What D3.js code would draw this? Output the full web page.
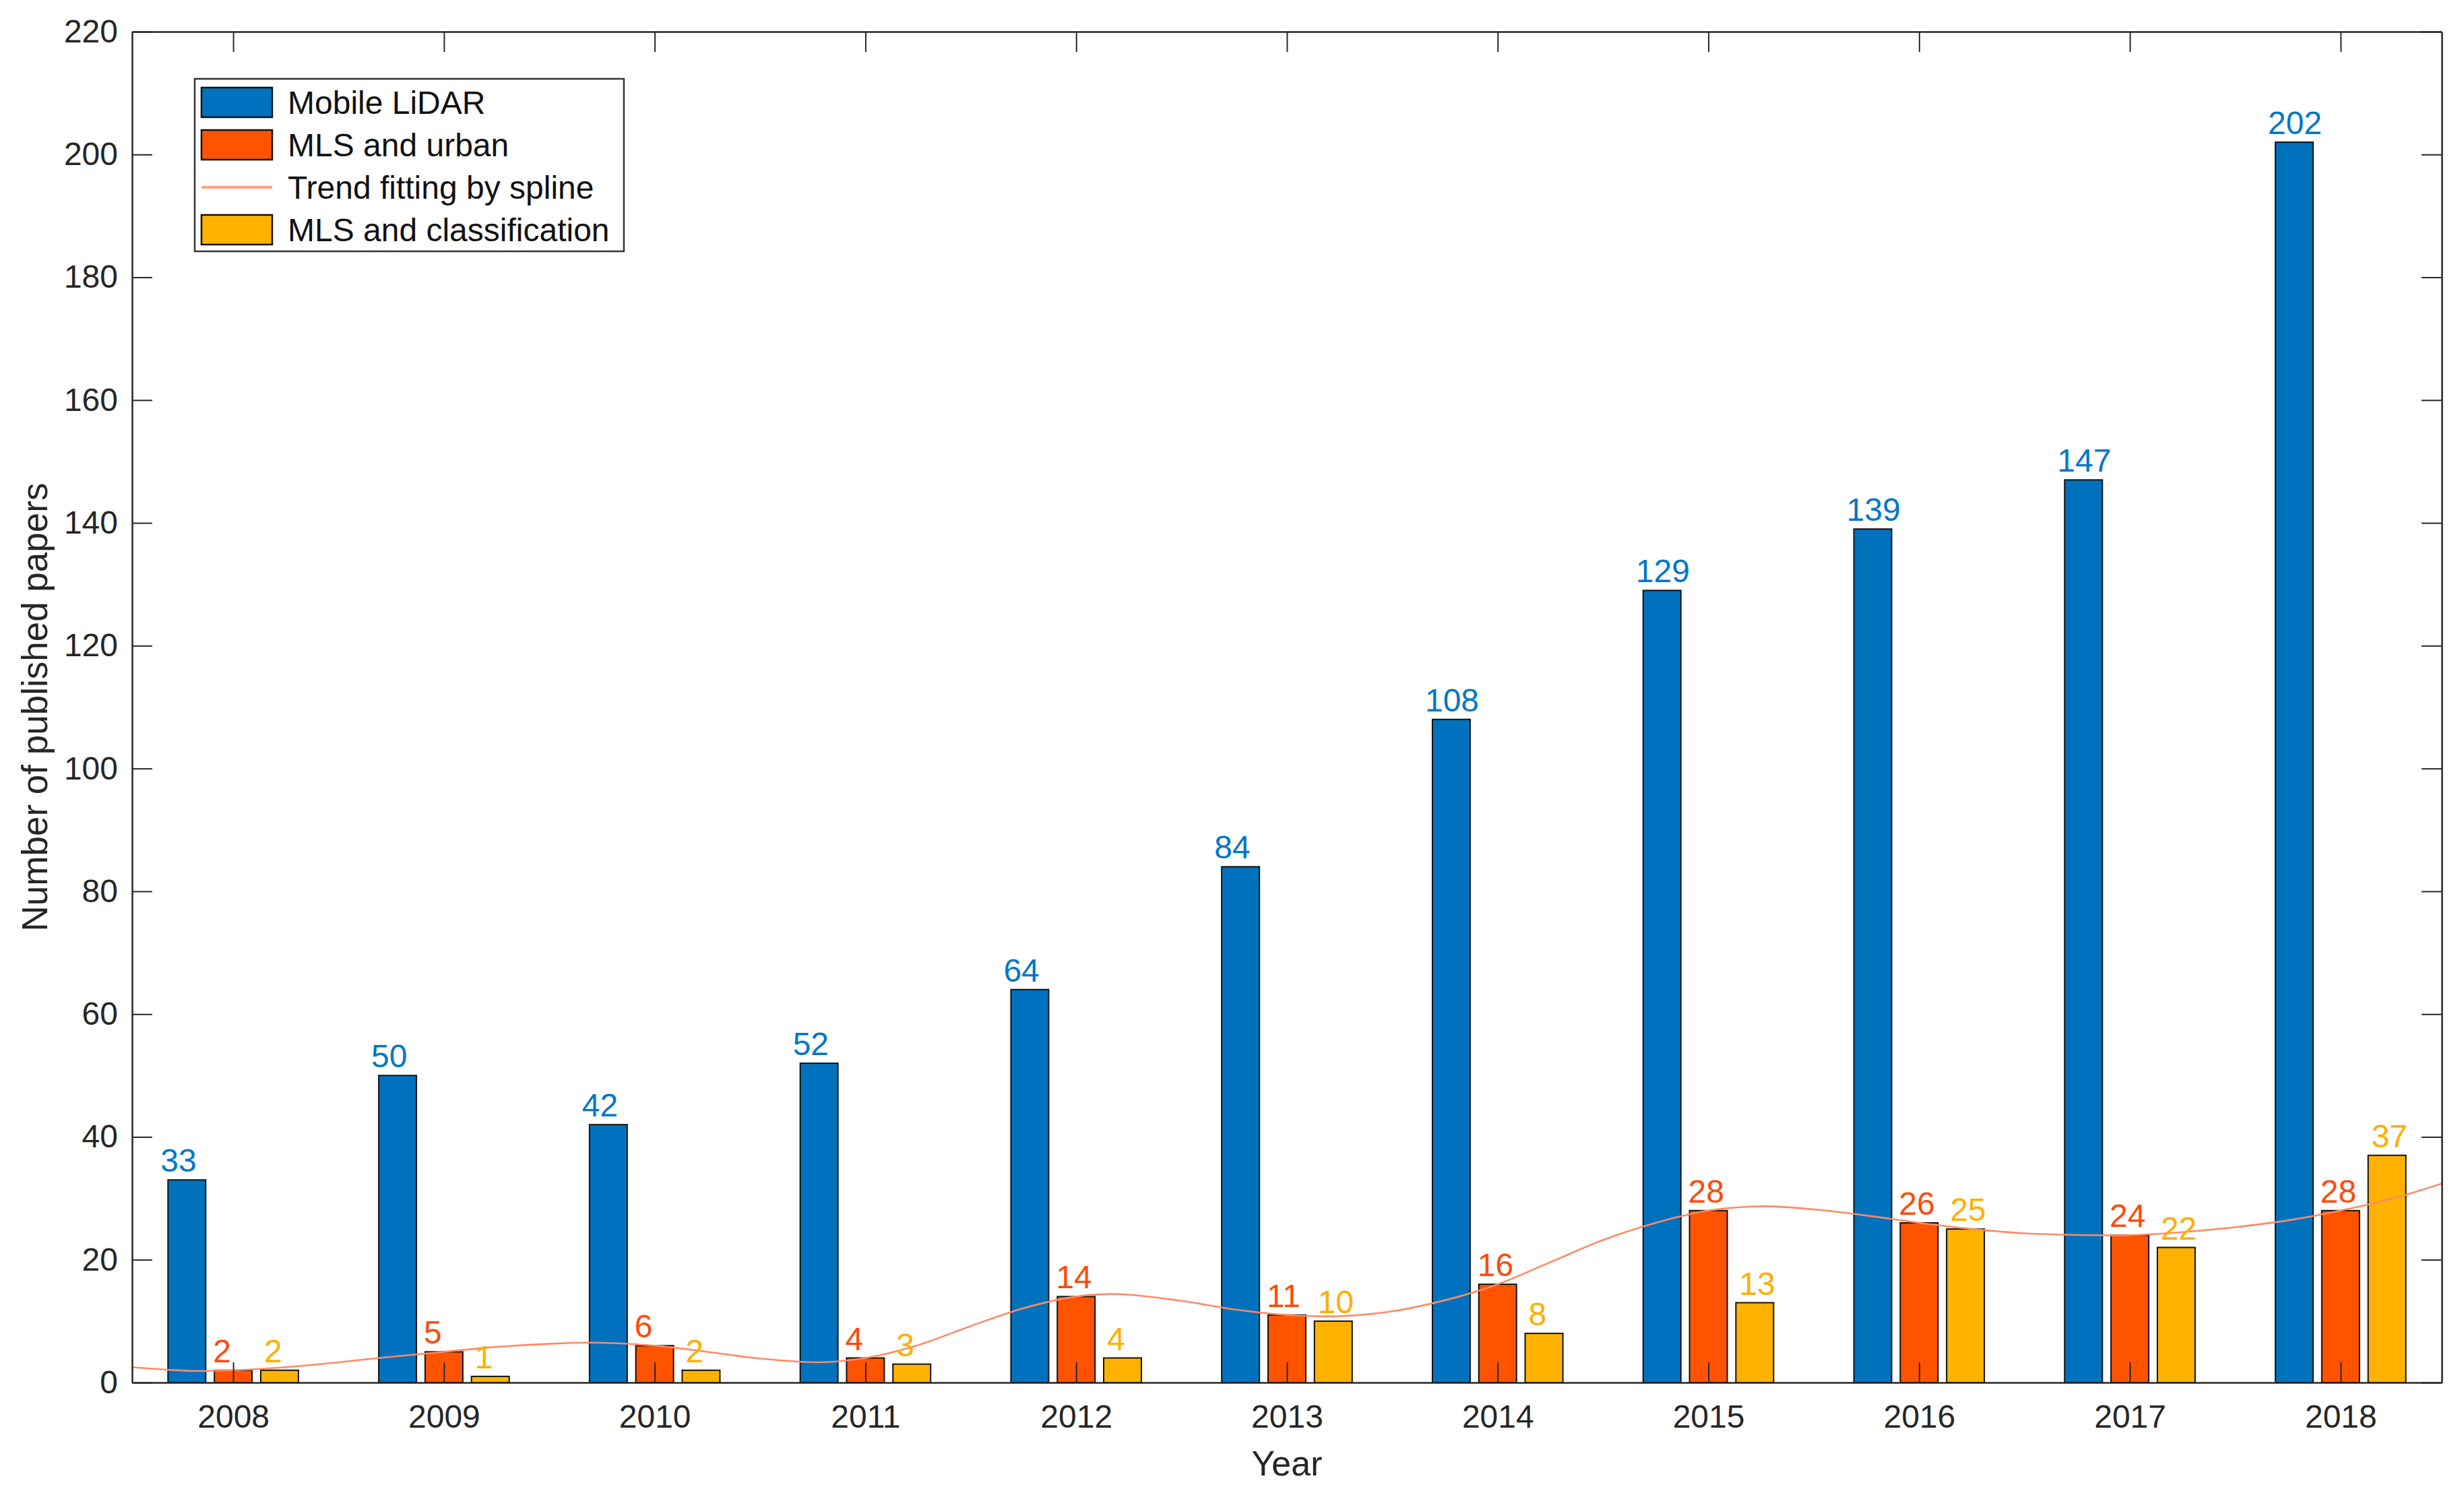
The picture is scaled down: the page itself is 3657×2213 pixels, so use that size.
<!DOCTYPE html>
<html>
<head>
<meta charset="utf-8">
<script src="https://cdn.jsdelivr.net/npm/d3@7"></script>
<style>
  html, body { margin: 0; padding: 0; background: #ffffff; }
  svg { display: block; }
</style>
</head>
<body>
<svg id="chart" width="3657" height="2213"></svg>
<script>
// ---------------- data ----------------
const years = [2008, 2009, 2010, 2011, 2012, 2013, 2014, 2015, 2016, 2017, 2018];
const mobileLidar = [33, 50, 42, 52, 64, 84, 108, 129, 139, 147, 202];
const mlsUrban = [2, 5, 6, 4, 14, 11, 16, 28, 26, 24, 28];
const mlsClassification = [2, 1, 2, 3, 4, 10, 8, 13, 25, 22, 37];
const seriesNames = ["Mobile LiDAR", "MLS and urban", "Trend fitting by spline", "MLS and classification"];
const yTicks = [0, 20, 40, 60, 80, 100, 120, 140, 160, 180, 200, 220];
// trend line (year, value)
const trendYears = [2007.52, 2007.8, 2008.0, 2008.25, 2008.5, 2008.75, 2009.0, 2009.25, 2009.5, 2009.7,
  2010.0, 2010.25, 2010.5, 2010.78, 2011.0, 2011.25, 2011.5, 2011.75, 2012.0, 2012.2, 2012.5, 2012.75,
  2013.0, 2013.25, 2013.5, 2013.75, 2014.0, 2014.25, 2014.5, 2014.75, 2015.0, 2015.25, 2015.5, 2015.75,
  2016.0, 2016.25, 2016.5, 2016.8, 2017.0, 2017.25, 2017.5, 2017.75, 2018.0, 2018.25, 2018.48];
const trendValues = [2.5, 1.9, 2.0, 2.5, 3.3, 4.2, 5.0, 5.8, 6.3, 6.5,
  6.0, 5.0, 3.9, 3.3, 4.0, 6.1, 9.2, 12.1, 14.0, 14.4, 13.3, 11.9,
  11.0, 10.8, 11.6, 13.4, 16.0, 19.6, 23.2, 26.0, 28.0, 28.7, 28.2, 27.2,
  26.0, 25.0, 24.3, 24.0, 24.0, 24.5, 25.3, 26.4, 28.0, 30.0, 32.4];

// ---------------- style ----------------
const barColors = ["#0072BD", "#FF5300", "#FFB300"];
const labelColors = ["#0077C8", "#FF4A0A", "#FFAE00"];
const labelShift = [-39, -30, -23]; // label start relative to bar centre (px)
const trendColor = "#FF8A66";
const axisColor = "#262626";
const font = "'Liberation Sans', Arial, Helvetica, sans-serif";

const margin = { left: 196, right: 3657 - 3624, top: 47, bottom: 2213 - 2052 };
const W = 3657, H = 2213;
const plotW = W - margin.left - margin.right;
const plotH = H - margin.top - margin.bottom;

const svg = d3.select("#chart");
const g = svg.append("g").attr("transform", `translate(${margin.left},${margin.top})`);

const x = d3.scaleLinear().domain([2007.52, 2018.48]).range([0, plotW]);
const y = d3.scaleLinear().domain([0, 220]).range([plotH, 0]);

const groupOffset = 0.22;
const barWidthUnits = 0.179;
const bw = x(2008 + barWidthUnits) - x(2008);

const allSeries = [mobileLidar, mlsUrban, mlsClassification];

g.append("clipPath").attr("id", "clip")
  .append("rect").attr("x", 0).attr("y", 0).attr("width", plotW).attr("height", plotH);

// bars
allSeries.forEach((vals, si) => {
  const off = (si - 1) * groupOffset;
  g.append("g").selectAll("rect")
    .data(years.map((yr, i) => ({ yr, v: vals[i] })))
    .join("rect")
    .attr("x", d => x(d.yr + off) - bw / 2)
    .attr("y", d => y(d.v))
    .attr("width", bw)
    .attr("height", d => y(0) - y(d.v))
    .attr("fill", barColors[si])
    .attr("stroke", "#111")
    .attr("stroke-width", 2);
});

// trend line
const trendData = trendYears.map((t, i) => [t, trendValues[i]]);
g.append("path")
  .datum(trendData)
  .attr("clip-path", "url(#clip)")
  .attr("fill", "none")
  .attr("stroke", trendColor)
  .attr("stroke-width", 2.6)
  .attr("d", d3.line().x(d => x(d[0])).y(d => y(d[1])).curve(d3.curveCatmullRom.alpha(0.5)));

// axes
const tickLen = 30;
function styleAxis(sel) {
  sel.selectAll("path.domain").attr("stroke", axisColor).attr("stroke-width", 2.5);
  sel.selectAll(".tick line").attr("stroke", axisColor).attr("stroke-width", 2);
  sel.selectAll(".tick text").attr("fill", "#262626").style("font-family", font).style("font-size", "48px");
}
g.append("g").attr("transform", `translate(0,${plotH})`)
  .call(d3.axisBottom(x).tickValues(years).tickFormat(d3.format("d")).tickSize(-tickLen).tickSizeOuter(0).tickPadding(33))
  .call(styleAxis);
g.append("g")
  .call(d3.axisTop(x).tickValues(years).tickFormat("").tickSize(-tickLen).tickSizeOuter(0))
  .call(styleAxis);
g.append("g")
  .call(d3.axisLeft(y).tickValues(yTicks).tickFormat(d3.format("d")).tickSize(-tickLen).tickSizeOuter(0).tickPadding(21))
  .call(styleAxis);
g.append("g").attr("transform", `translate(${plotW},0)`)
  .call(d3.axisRight(y).tickValues(yTicks).tickFormat("").tickSize(-tickLen).tickSizeOuter(0))
  .call(styleAxis);

// value labels
allSeries.forEach((vals, si) => {
  const off = (si - 1) * groupOffset;
  g.append("g").selectAll("text")
    .data(years.map((yr, i) => ({ yr, v: vals[i] })))
    .join("text")
    .attr("x", d => x(d.yr + off) + labelShift[si])
    .attr("y", d => y(d.v) - 12)
    .attr("text-anchor", "start")
    .attr("fill", labelColors[si])
    .style("font-family", font)
    .style("font-size", "48px")
    .text(d => d.v);
});

// axis titles
svg.append("text")
  .attr("x", margin.left + x(2013))
  .attr("y", 2190)
  .attr("text-anchor", "middle")
  .attr("fill", "#262626")
  .style("font-family", font)
  .style("font-size", "52px")
  .text("Year");
svg.append("text")
  .attr("transform", `translate(51,${margin.top + plotH / 2}) rotate(-90)`)
  .attr("dy", "0.35em")
  .attr("text-anchor", "middle")
  .attr("fill", "#262626")
  .style("font-family", font)
  .style("font-size", "53px")
  .text("Number of published papers");

// legend
const lg = svg.append("g").attr("transform", "translate(289,117)");
lg.append("rect").attr("x", 0).attr("y", 0).attr("width", 637).attr("height", 256)
  .attr("fill", "#fff").attr("stroke", "#333").attr("stroke-width", 2.5);
const legendItems = [
  { name: seriesNames[0], type: "bar", color: barColors[0] },
  { name: seriesNames[1], type: "bar", color: barColors[1] },
  { name: seriesNames[2], type: "line", color: "#FFA080" },
  { name: seriesNames[3], type: "bar", color: barColors[2] }
];
legendItems.forEach((it, i) => {
  const cy = 35 + i * 63;
  if (it.type === "bar") {
    lg.append("rect").attr("x", 10).attr("y", cy - 22).attr("width", 105).attr("height", 44)
      .attr("fill", it.color).attr("stroke", "#111").attr("stroke-width", 2.5);
  } else {
    lg.append("line").attr("x1", 10).attr("x2", 115).attr("y1", cy).attr("y2", cy)
      .attr("stroke", it.color).attr("stroke-width", 4);
  }
  lg.append("text").attr("x", 138).attr("y", cy).attr("dy", "0.35em")
    .attr("fill", "#111")
    .style("font-family", font).style("font-size", "48px")
    .text(it.name);
});
</script>
</body>
</html>
